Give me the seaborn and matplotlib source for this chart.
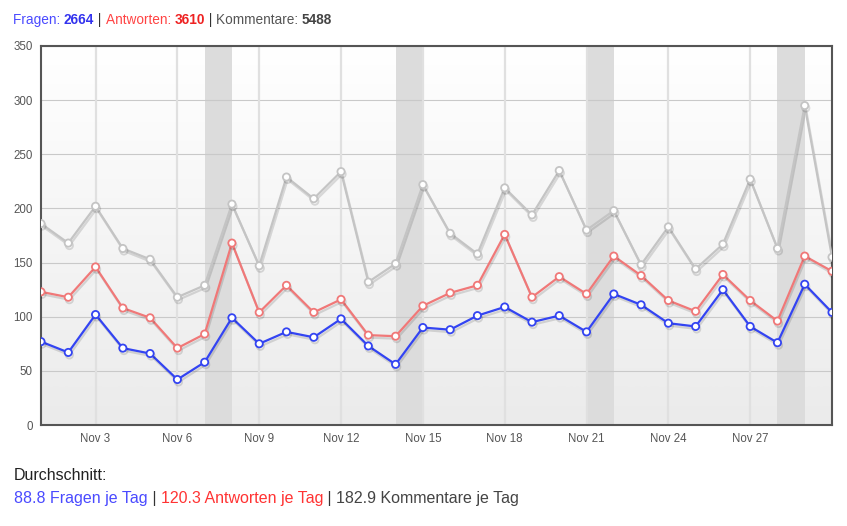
import numpy as np
import pandas as pd
import matplotlib
matplotlib.use("Agg")
import matplotlib.pyplot as plt
import matplotlib.patheffects as pe
from matplotlib.colors import LinearSegmentedColormap
from matplotlib.offsetbox import TextArea, HPacker, AnchoredOffsetbox
import seaborn as sns

# ===== Daten (November, Tag 1..30) =====
days = list(range(1, 31))
fragen = [77, 67, 102, 71, 66, 42, 58, 99, 75, 86,
          81, 98, 73, 56, 90, 88, 101, 109, 95, 101,
          86, 121, 111, 94, 91, 125, 91, 76, 130, 104]
antworten = [123, 118, 146, 108, 99, 71, 84, 168, 104, 129,
             104, 116, 83, 82, 110, 122, 129, 176, 118, 137,
             121, 156, 138, 115, 105, 139, 115, 96, 156, 142]
kommentare = [186, 168, 202, 163, 153, 118, 129, 204, 147, 229,
              209, 234, 132, 149, 222, 177, 158, 219, 194, 235,
              180, 198, 148, 183, 144, 167, 227, 163, 295, 155]
tick_days = [3, 6, 9, 12, 15, 18, 21, 24, 27]
tick_labels = ["Nov 3", "Nov 6", "Nov 9", "Nov 12", "Nov 15",
               "Nov 18", "Nov 21", "Nov 24", "Nov 27"]
band_starts = [7, 14, 21, 28]

summen = {"Fragen": "2664", "Antworten": "3610", "Kommentare": "5488"}
schnitt = {"Fragen": "88.8", "Antworten": "120.3", "Kommentare": "182.9"}

BLAU = "#3344f2"
ROT = "#f07878"
GRAU = "#c4c4c4"

df = pd.DataFrame({"Tag": days, "Fragen": fragen,
                   "Antworten": antworten, "Kommentare": kommentare})

sns.set_style("white")
plt.rcParams["font.family"] = ["Liberation Sans", "DejaVu Sans"]

fig = plt.figure(figsize=(8.47, 5.26), dpi=100)
W, H = 847, 526
ax = fig.add_axes([41 / W, 1 - 425 / H, (832 - 41) / W, (425 - 46) / H])

# Hintergrund-Verlauf (oben weiss, unten grau)
cmap = LinearSegmentedColormap.from_list("bg", ["#ffffff", "#ebebeb"])
grad = np.linspace(0, 1, 256).reshape(-1, 1)
ax.imshow(grad, cmap=cmap, aspect="auto", origin="upper",
          extent=(1, 30, 0, 350), zorder=0)
ax.set_xlim(1, 30)
ax.set_ylim(0, 350)

# Wochenenden
for s in band_starts:
    ax.axvspan(s, s + 1, color="#dcdcdc", zorder=0.5, lw=0)

# Gitter
for y in range(50, 351, 50):
    ax.axhline(y, color="#c9c9c9", lw=0.8, zorder=1)
for d in tick_days:
    ax.axvline(d, color="#e0e0e0", lw=1.6, zorder=1)

shadow = [pe.SimpleLineShadow(offset=(0.8, -1.8), shadow_color="black", alpha=0.13),
          pe.Normal()]
for col, c in [("Kommentare", GRAU), ("Antworten", ROT), ("Fragen", BLAU)]:
    sns.lineplot(data=df, x="Tag", y=col, ax=ax, color=c, lw=1.6,
                 marker="o", markersize=5.2, markerfacecolor="white",
                 markeredgecolor=c, markeredgewidth=1.3, zorder=3,
                 path_effects=shadow)

ax.set_xticks(tick_days)
ax.set_xticklabels(tick_labels)
ax.set_yticks(range(0, 351, 50))
ax.tick_params(axis="both", length=0, labelsize=8.3, labelcolor="#555555")
ax.tick_params(axis="x", pad=6)
ax.tick_params(axis="y", pad=6)
ax.set_xlabel("")
ax.set_ylabel("")
for sp in ax.spines.values():
    sp.set_visible(True)
    sp.set_color("#555555")
    sp.set_linewidth(1.5)

# Kopfzeile
def zeile(teile, size):
    boxes = [TextArea(t, textprops=dict(color=c, fontsize=size, fontweight=w))
             for t, c, w in teile]
    return HPacker(children=boxes, align="baseline", pad=0, sep=0)

kopf = zeile([("Fragen: ", "#4a4aff", "normal"), (summen["Fragen"], "#3333ee", "bold"),
              (" | ", "#333333", "normal"),
              ("Antworten: ", "#ff4444", "normal"), (summen["Antworten"], "#ee2222", "bold"),
              (" | ", "#333333", "normal"),
              ("Kommentare: ", "#555555", "normal"), (summen["Kommentare"], "#444444", "bold")],
             9.8)
fig.add_artist(AnchoredOffsetbox(loc="center left", child=kopf, frameon=False, pad=0,
                                 borderpad=0, bbox_to_anchor=(13 / W, 1 - 20 / H),
                                 bbox_transform=fig.transFigure))

fig.text(14 / W, 1 - 476 / H, "Durchschnitt:", fontsize=11.5, color="#222222", va="center")
fuss = zeile([(schnitt["Fragen"] + " Fragen je Tag", "#4a4aff", "normal"),
              (" | ", "#333333", "normal"),
              (schnitt["Antworten"] + " Antworten je Tag", "#ff3333", "normal"),
              (" | ", "#333333", "normal"),
              (schnitt["Kommentare"] + " Kommentare je Tag", "#444444", "normal")],
             11.5)
fig.add_artist(AnchoredOffsetbox(loc="center left", child=fuss, frameon=False, pad=0,
                                 borderpad=0, bbox_to_anchor=(14 / W, 1 - 498 / H),
                                 bbox_transform=fig.transFigure))

fig.savefig("out.png", dpi=100)
